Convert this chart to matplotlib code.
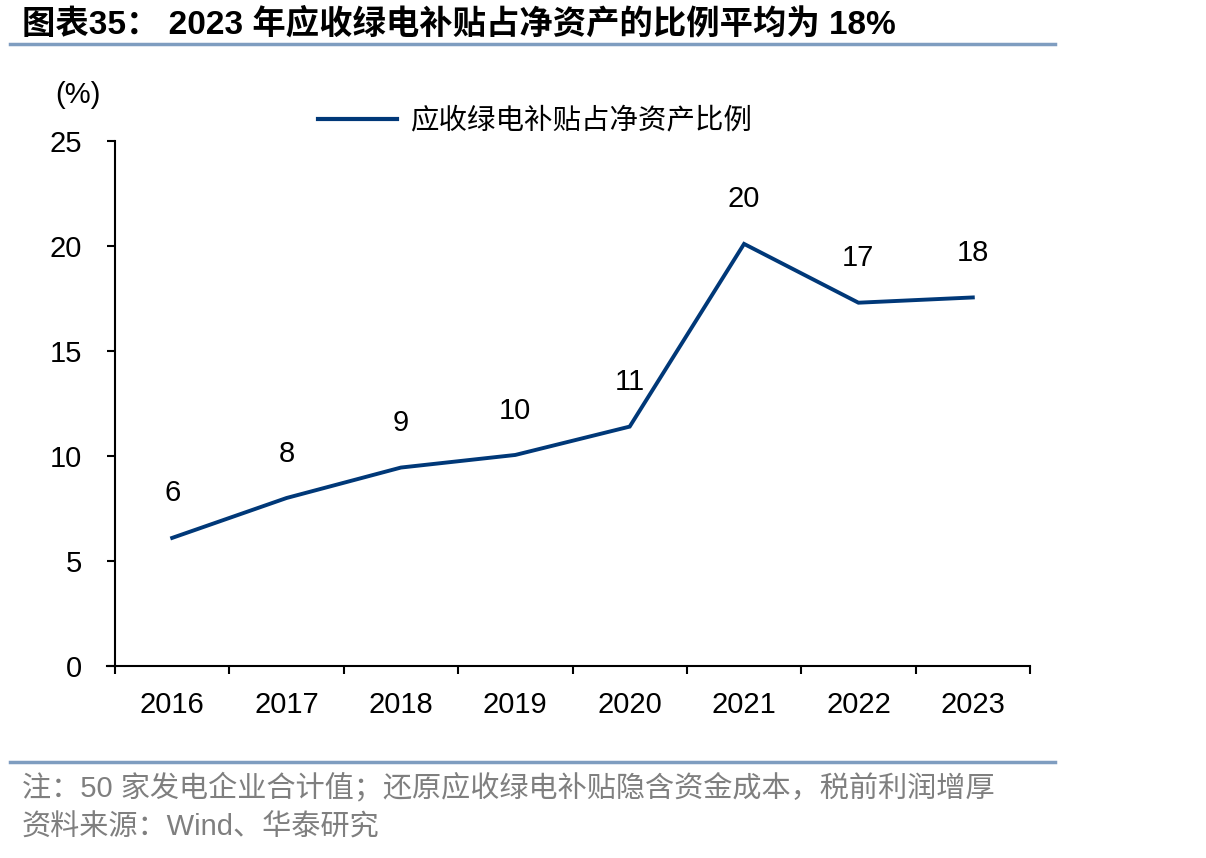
import numpy as np
import matplotlib
matplotlib.use('Agg')
from matplotlib import pyplot as plt
from matplotlib.lines import Line2D

plt.rcParams['font.family'] = ['Liberation Sans', 'Noto Sans CJK SC', 'DejaVu Sans']

years = ['2016', '2017', '2018', '2019', '2020', '2021', '2022', '2023']
ratio = [6.1, 8.0, 9.45, 10.05, 11.4, 20.1, 17.3, 17.55]
point_labels = ['6', '8', '9', '10', '11', '20', '17', '18']
yticks = [0, 5, 10, 15, 20, 25]

title = '图表35： 2023 年应收绿电补贴占净资产的比例平均为 18%'
legend_label = '应收绿电补贴占净资产比例'
note = '注：50 家发电企业合计值；还原应收绿电补贴隐含资金成本，税前利润增厚'
source = '资料来源：Wind、华泰研究'

line_color = '#003878'
rule_color = '#7F9DC0'

fig = plt.figure(figsize=(12.06, 8.58), dpi=100)
W, H = 1206, 858
ax = fig.add_axes([115 / W, 1 - 666 / H, (1030 - 115) / W, (666 - 141) / H])

x = np.arange(len(years))
ax.plot(x, ratio, color=line_color, lw=2.8, solid_joinstyle='miter')
for xi, v, lab in zip(x, ratio, point_labels):
    ax.annotate(lab, (xi, v), xytext=(0, 32), textcoords='offset points',
                ha='center', va='center', fontsize=21)

ax.set_xlim(-0.5, len(years) - 0.5)
ax.set_ylim(0, 25)
ax.set_yticks(yticks)
ax.tick_params(axis='y', labelsize=21, direction='out', length=6, width=1.5, pad=18)
ax.set_xticks(x)
ax.set_xticklabels(years)
ax.set_xticks(np.arange(-0.5, len(years)), minor=True)
ax.tick_params(axis='x', which='major', length=0, labelsize=21, pad=18)
ax.tick_params(axis='x', which='minor', direction='out', length=6, width=1.5)
for s in ['top', 'right']:
    ax.spines[s].set_visible(False)
for s in ['left', 'bottom']:
    ax.spines[s].set_linewidth(1.5)
ax.spines['bottom'].set_bounds(-0.57, len(years) - 0.5)

fig.text(55 / W, 1 - 95 / H, '(%)', fontsize=21, ha='left', va='center')

leg = ax.legend([Line2D([], [], color=line_color, lw=3)], [legend_label],
                loc='upper left', bbox_to_anchor=(177 / 915, 1 + 59 / 525),
                frameon=False, fontsize=20.5, handlelength=2.8, handletextpad=0.45)

fig.text(22 / W, 1 - 24 / H, title, fontsize=24, fontweight='bold', ha='left', va='center',
         family=['Liberation Sans Narrow', 'Liberation Sans', 'Noto Sans CJK SC'])
fig.add_artist(Line2D([10 / W, 1055 / W], [1 - 44 / H, 1 - 44 / H], color=rule_color, lw=2.5))
fig.add_artist(Line2D([10 / W, 1055 / W], [1 - 762 / H, 1 - 762 / H], color=rule_color, lw=2.5))
fig.text(22 / W, 1 - 787 / H, note, fontsize=21, color='#7F7F7F', ha='left', va='center')
fig.text(22 / W, 1 - 828 / H, source, fontsize=21, color='#7F7F7F', ha='left', va='center')

fig.savefig('out.png', dpi=100)
